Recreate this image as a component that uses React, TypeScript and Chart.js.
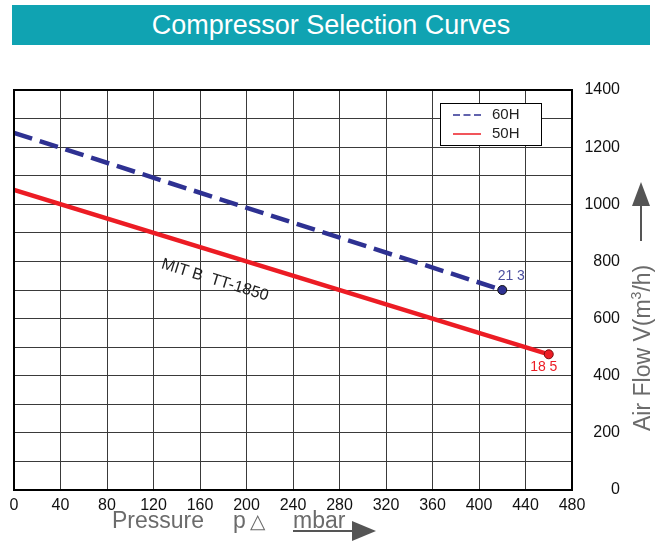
import React, { useEffect, useRef } from 'react';
import { Chart, registerables } from 'chart.js';

Chart.register(...registerables);

const TITLE = 'Compressor Selection Curves';
const seriesNames = ['60H', '50H'];
const pressure60 = [0, 420];
const flow60 = [1250, 700];
const pressure50 = [0, 460];
const flow50 = [1050, 475];
const endLabels = ['21 3', '18 5'];
const curveLabel = 'MIT B  TT-1850';
const curveLabelPos = [126, 777];
const xMin = 0;
const xMax = 480;
const xStep = 40;
const yMin = 0;
const yMax = 1400;
const yGridStep = 100;
const yLabelStep = 200;

const BLUE = '#2e3192';
const RED = '#ec1c24';
const GRAY = '#6b6b6b';
const FONT = '"Liberation Sans", Arial, sans-serif';

const decor = {
  id: 'decor',
  afterDraw(chart: any) {
    const ctx = chart.ctx as CanvasRenderingContext2D;
    const ca = chart.chartArea;
    const xs = chart.scales.x;
    const ys = chart.scales.y;
    ctx.save();
    // frame
    ctx.strokeStyle = '#000';
    ctx.lineWidth = 2;
    ctx.strokeRect(ca.left, ca.top, ca.right - ca.left, ca.bottom - ca.top);

    // end point labels
    ctx.font = `14px ${FONT}`;
    ctx.textAlign = 'center';
    ctx.textBaseline = 'middle';
    const m0 = chart.getDatasetMeta(0).data;
    const p0 = m0[m0.length - 1];
    ctx.fillStyle = '#4b4f9e';
    ctx.fillText(endLabels[0], p0.x + 9, p0.y - 14);
    const m1 = chart.getDatasetMeta(1).data;
    const p1 = m1[m1.length - 1];
    ctx.fillStyle = RED;
    ctx.fillText(endLabels[1], p1.x - 5, p1.y + 13);

    // curve label along the 50H line
    const a = m1[0];
    const ang = Math.atan2(p1.y - a.y, p1.x - a.x);
    ctx.save();
    ctx.translate(xs.getPixelForValue(curveLabelPos[0]), ys.getPixelForValue(curveLabelPos[1]));
    ctx.rotate(ang);
    ctx.font = `16px ${FONT}`;
    ctx.fillStyle = '#222';
    ctx.textAlign = 'left';
    ctx.textBaseline = 'alphabetic';
    ctx.fillText(curveLabel, 0, 0);
    ctx.restore();

    // legend box
    const bx = ca.right - 132;
    const by = ca.top + 13;
    ctx.fillStyle = '#fff';
    ctx.fillRect(bx, by, 101, 42);
    ctx.strokeStyle = '#000';
    ctx.lineWidth = 1;
    ctx.strokeRect(bx + 0.5, by + 0.5, 101, 42);
    ctx.lineWidth = 1.5;
    ctx.strokeStyle = BLUE;
    ctx.setLineDash([7, 3.5]);
    ctx.beginPath();
    ctx.moveTo(bx + 13, by + 12);
    ctx.lineTo(bx + 41, by + 12);
    ctx.stroke();
    ctx.setLineDash([]);
    ctx.strokeStyle = RED;
    ctx.beginPath();
    ctx.moveTo(bx + 13, by + 31);
    ctx.lineTo(bx + 41, by + 31);
    ctx.stroke();
    ctx.font = `15px ${FONT}`;
    ctx.fillStyle = '#222';
    ctx.textAlign = 'left';
    ctx.textBaseline = 'middle';
    ctx.fillText(seriesNames[0], bx + 52, by + 12);
    ctx.fillText(seriesNames[1], bx + 52, by + 31);

    // x axis title
    ctx.fillStyle = GRAY;
    ctx.font = `300 23px ${FONT}`;
    ctx.textBaseline = 'alphabetic';
    ctx.textAlign = 'left';
    const baseY = 528;
    ctx.fillText('Pressure', 112, baseY);
    ctx.fillText('p', 233, baseY);
    ctx.font = `20px "DejaVu Sans", sans-serif`;
    ctx.fillText('\u25B3', 250, baseY);
    ctx.font = `300 23px ${FONT}`;
    ctx.fillText('mbar', 293, baseY);
    ctx.strokeStyle = '#555';
    ctx.lineWidth = 2;
    ctx.beginPath();
    ctx.moveTo(293, 531);
    ctx.lineTo(356, 531);
    ctx.stroke();
    ctx.fillStyle = '#555';
    ctx.beginPath();
    ctx.moveTo(352, 521);
    ctx.lineTo(376, 531);
    ctx.lineTo(352, 541);
    ctx.closePath();
    ctx.fill();

    // y axis title (rotated) + arrow
    ctx.save();
    ctx.translate(650, 431);
    ctx.rotate(-Math.PI / 2);
    ctx.fillStyle = GRAY;
    ctx.textAlign = 'left';
    ctx.textBaseline = 'alphabetic';
    ctx.font = `300 23px ${FONT}`;
    let x = 0;
    const t1 = 'Air Flow V(m';
    ctx.fillText(t1, x, 0);
    x += ctx.measureText(t1).width;
    ctx.font = `300 14px ${FONT}`;
    ctx.fillText('3', x, -9);
    x += ctx.measureText('3').width;
    ctx.font = `300 23px ${FONT}`;
    ctx.fillText('/h)', x, 0);
    ctx.restore();

    ctx.strokeStyle = '#555';
    ctx.lineWidth = 2;
    ctx.beginPath();
    ctx.moveTo(641, 241);
    ctx.lineTo(641, 200);
    ctx.stroke();
    ctx.fillStyle = '#555';
    ctx.beginPath();
    ctx.moveTo(641, 182);
    ctx.lineTo(650, 206);
    ctx.lineTo(632, 206);
    ctx.closePath();
    ctx.fill();

    ctx.restore();
  },
};

export default function App() {
  const ref = useRef<HTMLCanvasElement>(null);
  useEffect(() => {
    if (!ref.current) return;
    const chart = new Chart(ref.current, {
      type: 'line',
      data: {
        datasets: [
          {
            label: seriesNames[0],
            data: pressure60.map((p, i) => ({ x: p, y: flow60[i] })),
            borderColor: BLUE,
            borderWidth: 4.5,
            borderDash: [19, 8],
            pointRadius: pressure60.map((_, i) => (i === pressure60.length - 1 ? 4.5 : 0)),
            pointBackgroundColor: BLUE,
            pointBorderColor: '#111',
            pointBorderWidth: 1,
          },
          {
            label: seriesNames[1],
            data: pressure50.map((p, i) => ({ x: p, y: flow50[i] })),
            borderColor: RED,
            borderWidth: 4.5,
            pointRadius: pressure50.map((_, i) => (i === pressure50.length - 1 ? 4.5 : 0)),
            pointBackgroundColor: RED,
            pointBorderColor: '#7a0d10',
            pointBorderWidth: 1,
          },
        ],
      },
      options: {
        responsive: false,
        animation: false,
        layout: { padding: { left: 14, top: 90, right: 39, bottom: 0 } },
        plugins: { legend: { display: false }, tooltip: { enabled: false }, title: { display: false } },
        scales: {
          x: {
            type: 'linear',
            min: xMin,
            max: xMax,
            afterFit: (s: any) => { s.height = 51; },
            ticks: { stepSize: xStep, padding: 6, color: '#111', font: { family: FONT, size: 16 } },
            grid: { color: '#3a3a3a', lineWidth: 1, drawTicks: false },
            border: { display: false },
          },
          y: {
            type: 'linear',
            position: 'right',
            min: yMin,
            max: yMax,
            afterFit: (s: any) => { s.width = 48; },
            ticks: {
              stepSize: yGridStep,
              crossAlign: 'far',
              padding: 10,
              color: '#111',
              font: { family: FONT, size: 16 },
              callback: (v: any) => (Number(v) % yLabelStep === 0 ? String(v) : ''),
            },
            grid: { color: '#3a3a3a', lineWidth: 1, drawTicks: false },
            border: { display: false },
          },
        },
      },
      plugins: [decor],
    });
    return () => chart.destroy();
  }, []);

  return (
    <div style={{ position: 'absolute', left: 0, top: 0, width: 659, height: 541, background: '#fff' }}>
      <canvas ref={ref} width={659} height={541} style={{ position: 'absolute', left: 0, top: 0 }} />
      <div
        style={{
          position: 'absolute',
          left: 12,
          top: 5,
          width: 638,
          height: 40,
          background: '#10a3b2',
          color: '#fff',
          fontFamily: FONT,
          fontSize: 27,
          lineHeight: '40px',
          textAlign: 'center',
        }}
      >
        {TITLE}
      </div>
    </div>
  );
}
